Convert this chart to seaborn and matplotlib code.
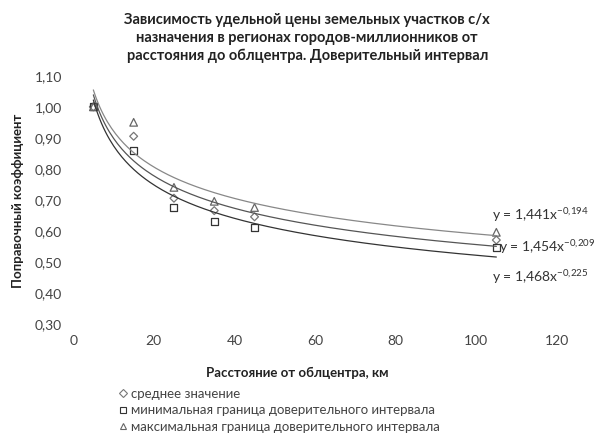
import numpy as np
import pandas as pd
import matplotlib
matplotlib.use("Agg")
import matplotlib.pyplot as plt
from matplotlib.lines import Line2D
import seaborn as sns

# distance to regional centre, km
distance = [5, 15, 25, 35, 45, 105]
mean_vals = [1.00, 0.905, 0.705, 0.665, 0.645, 0.57]
min_vals = [1.00, 0.86, 0.675, 0.63, 0.61, 0.545]
max_vals = [1.00, 0.95, 0.74, 0.695, 0.675, 0.595]

series_names = ["среднее значение",
                "минимальная граница доверительного интервала",
                "максимальная граница доверительного интервала"]
# power trendlines y = a * x^b
trend_a = [1.454, 1.468, 1.441]
trend_b = [-0.209, -0.225, -0.194]
trend_labels = ["y = 1,454x$^{-0{,}209}$", "y = 1,468x$^{-0{,}225}$", "y = 1,441x$^{-0{,}194}$"]

sns.set_style("white")
plt.rcParams['font.family'] = ['Lato', 'DejaVu Sans']
plt.rcParams['mathtext.default'] = 'regular'

df = pd.DataFrame({
    "x": distance * 3,
    "y": mean_vals + min_vals + max_vals,
    "series": [series_names[0]] * 6 + [series_names[1]] * 6 + [series_names[2]] * 6,
})

fig = plt.figure(figsize=(6.0, 4.41), dpi=100)
ax = fig.add_axes([0.122, 0.266, 0.806, 0.562])

markers = ["D", "s", "^"]
sizes = [16, 26, 30]
mcolors = ["#777777", "#333333", "#666666"]
lcolors = ["#555555", "#333333", "#888888"]

xs = np.linspace(min(distance), max(distance), 200)
for i, name in enumerate(series_names):
    curve = pd.DataFrame({"x": xs, "y": trend_a[i] * xs ** trend_b[i]})
    sns.lineplot(data=curve, x="x", y="y", color=lcolors[i], linewidth=0.9, ax=ax)
    sub = df[df["series"] == name]
    sns.scatterplot(data=sub, x="x", y="y", marker=markers[i], s=sizes[i],
                    facecolors="none", edgecolors=mcolors[i], linewidth=0.9, ax=ax)

ax.set_xlim(0, 120)
ax.set_ylim(0.30, 1.10)
ax.set_xticks(np.arange(0, 121, 20))
ax.set_yticks(np.arange(0.30, 1.101, 0.10))
ax.set_yticklabels([f"{v:.2f}".replace(".", ",") for v in np.arange(0.30, 1.101, 0.10)])
ax.tick_params(axis="both", length=0, labelsize=10, labelcolor="#444444", pad=8)
for s in ax.spines.values():
    s.set_visible(False)
ax.set_xlabel("")
ax.set_ylabel("")

# trendline equations
eq_y = [247, 277, 215]
eq_x = [499, 492, 492]
for i in range(3):
    fig.text(eq_x[i] / 600, 1 - eq_y[i] / 441, trend_labels[i], fontsize=10,
             color="#333333", va="center", ha="left")

fig.text(0.512, 1 - 38 / 441,
         "Зависимость удельной цены земельных участков с/х\n"
         "назначения в регионах городов-миллионников от\n"
         "расстояния до облцентра. Доверительный интервал",
         ha="center", va="center", fontsize=10.5, fontweight="bold",
         linespacing=1.35, color="#222222")
fig.text(0.03, 0.545, "Поправочный коэффициент", rotation=90, ha="center",
         va="center", fontsize=9.5, fontweight="bold", color="#222222")
fig.text(0.495, 1 - 373 / 441, "Расстояние от облцентра, км", ha="center",
         va="center", fontsize=9.5, fontweight="bold", color="#222222")

handles = [Line2D([], [], linestyle="none", marker=markers[i], markersize=4,
                  markerfacecolor="none", markeredgecolor=mcolors[i], markeredgewidth=0.8)
           for i in range(3)]
fig.legend(handles, series_names, loc="upper left", bbox_to_anchor=(0.185, 1 - 381 / 441),
           frameon=False, fontsize=9.5, handletextpad=0.2, handlelength=0.8,
           labelspacing=0.35, borderpad=0, labelcolor="#444444")

fig.savefig("out.png", dpi=100)
